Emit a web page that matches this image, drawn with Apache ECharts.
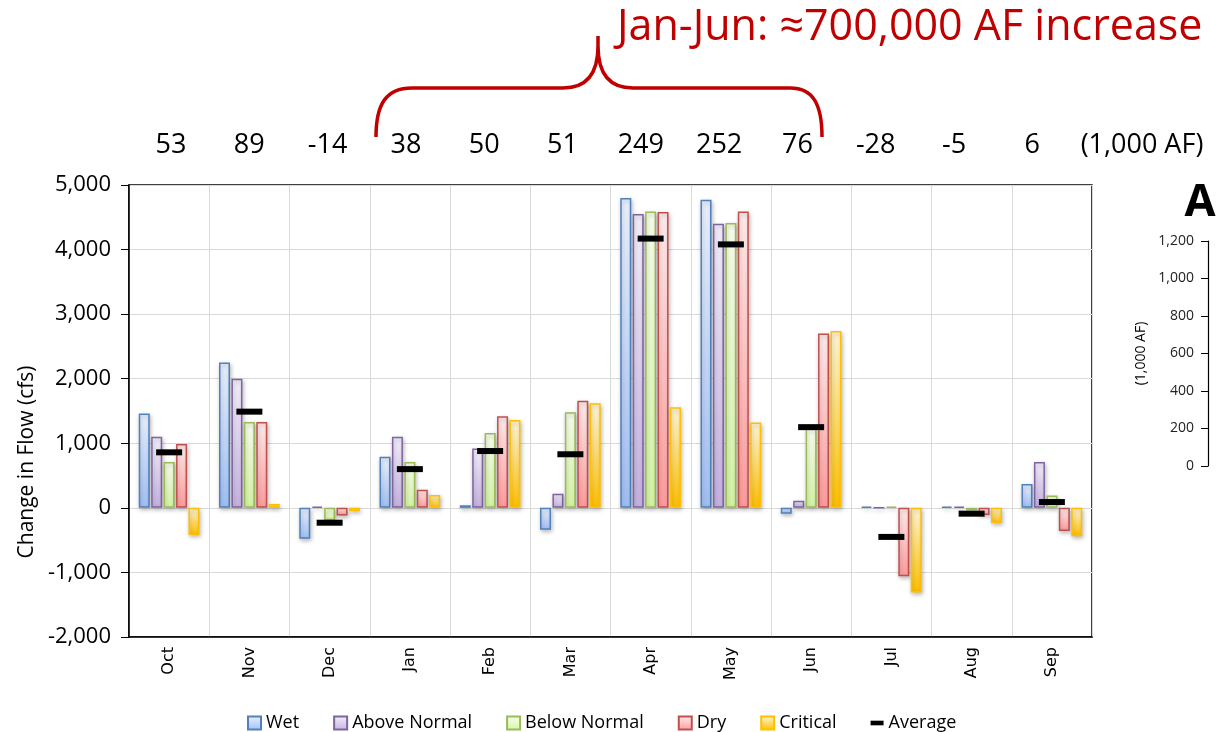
<!DOCTYPE html>
<html>
<head>
<meta charset="utf-8">
<script src="https://cdn.jsdelivr.net/npm/echarts@6/dist/echarts.min.js"></script>
<style>
  html, body { margin: 0; padding: 0; background: #fff; }
  #chart { width: 1217px; height: 732px; }
</style>
</head>
<body>
<div id="chart"></div>
<script>
// monthly change in flow (cfs) by water year type
const months = ['Oct', 'Nov', 'Dec', 'Jan', 'Feb', 'Mar', 'Apr', 'May', 'Jun', 'Jul', 'Aug', 'Sep'];
const wet = [1460, 2250, -480, 790, 40, -340, 4800, 4770, -90, 20, 20, 370];
const aboveNormal = [1100, 2000, 20, 1100, 920, 220, 4550, 4400, 110, 0, 20, 710];
const belowNormal = [710, 1330, -190, 710, 1160, 1480, 4590, 4410, 1230, 20, -40, 190];
const dry = [990, 1330, -120, 280, 1420, 1660, 4580, 4590, 2700, -1060, -110, -360];
const critical = [-420, 60, -50, 200, 1360, 1620, 1560, 1320, 2740, -1310, -236, -440];
const average = [860, 1490, -230, 600, 880, 830, 4170, 4080, 1250, -450, -90, 90];
// volume change per month (1,000 AF), shown above the plot
const volumeLabels = ['53', '89', '-14', '38', '50', '51', '249', '252', '76', '-28', '-5', '6'];
const yTicks = [-2000, 5000, 1000];
const panelTicks = [0, 1200, 200];

const FONT = '"Open Sans", "Noto Sans", sans-serif';

// curly brace over Jan-Jun
echarts.graphic.registerShape('brace', echarts.graphic.extendPath(
    'M376,137 C376,104 386,88 412,88 L563,88 C588,88 598,72 598,46 L598,36 ' +
    'M598,46 C598,72 608,88 633,88 L790,88 C813,88 822,104 822,137', {}
));

function barSeries(name, data, top, bottom, border) {
    return {
        name: name,
        type: 'bar',
        data: data,
        barWidth: 11,
        barGap: '13%',
        itemStyle: {
            color: new echarts.graphic.LinearGradient(0, 0, 0, 1, [
                { offset: 0, color: top },
                { offset: 1, color: bottom }
            ]),
            borderColor: border,
            borderWidth: 1.5,
            shadowBlur: 4,
            shadowOffsetX: 1,
            shadowOffsetY: 2,
            shadowColor: 'rgba(0,0,0,0.25)'
        }
    };
}

const chart = echarts.init(document.getElementById('chart'));

chart.setOption({
    animation: false,
    backgroundColor: '#fff',
    textStyle: { fontFamily: FONT },
    grid: [
        { left: 129, right: 125, top: 185, bottom: 95, show: true, borderColor: '#000', borderWidth: 1.5 },
        { left: 131.85, width: 939.6, top: 185, height: 452 },
        { left: 1208, top: 241, height: 225, width: 300 }
    ],
    legend: {
        left: 242,
        top: 709,
        itemWidth: 13,
        itemHeight: 13,
        itemGap: 34,
        textStyle: { fontFamily: FONT, fontSize: 18, color: '#000' },
        data: [
            { name: 'Wet', icon: 'rect' },
            { name: 'Above Normal', icon: 'rect' },
            { name: 'Below Normal', icon: 'rect' },
            { name: 'Dry', icon: 'rect' },
            { name: 'Critical', icon: 'rect' },
            { name: 'Average', icon: 'path://M0,0H14V5H0Z', itemStyle: { opacity: 1 } }
        ]
    },
    xAxis: [
        {
            type: 'category',
            gridIndex: 0,
            data: months,
            axisLine: { onZero: false, lineStyle: { color: '#000', width: 1.5 } },
            axisTick: { show: false },
            splitLine: { show: true, interval: 0, lineStyle: { color: '#d9d9d9' } },
            axisLabel: {
                rotate: 90,
                margin: 10,
                interval: 0,
                fontFamily: '"DejaVu Sans", Verdana, sans-serif',
                fontSize: 16,
                color: '#000'
            }
        },
        {
            type: 'category',
            gridIndex: 1,
            position: 'top',
            data: volumeLabels,
            axisLine: { show: false },
            axisTick: { show: false },
            splitLine: { show: false },
            axisLabel: { interval: 0, margin: 26, fontFamily: FONT, fontSize: 27, color: '#000' }
        },
        { type: 'value', gridIndex: 2, show: false }
    ],
    yAxis: [
        {
            type: 'value',
            gridIndex: 0,
            min: yTicks[0],
            max: yTicks[1],
            interval: yTicks[2],
            axisLine: { show: true, lineStyle: { color: '#000', width: 1.5 } },
            axisTick: { show: true, length: 8, lineStyle: { color: '#000' } },
            splitLine: { lineStyle: { color: '#d9d9d9' } },
            axisLabel: {
                margin: 18,
                fontFamily: FONT,
                fontSize: 22,
                color: '#000',
                formatter: v => v.toLocaleString('en-US')
            }
        },
        { type: 'value', gridIndex: 1, show: false, min: 0, max: 1 },
        {
            type: 'value',
            gridIndex: 2,
            min: panelTicks[0],
            max: panelTicks[1],
            interval: panelTicks[2],
            name: '(1,000 AF)',
            nameLocation: 'middle',
            nameGap: 60,
            nameTextStyle: { fontFamily: FONT, fontSize: 14, color: '#000' },
            axisLine: { show: true, lineStyle: { color: '#000', width: 1.2 } },
            axisTick: { show: true, length: 7, lineStyle: { color: '#000' } },
            splitLine: { show: false },
            axisLabel: {
                margin: 14,
                fontFamily: FONT,
                fontSize: 14,
                color: '#222',
                formatter: v => v.toLocaleString('en-US')
            }
        }
    ],
    series: [
        barSeries('Wet', wet, '#eaf1fd', '#a2c0f5', '#4f81bd'),
        barSeries('Above Normal', aboveNormal, '#f4f0fa', '#c5b2e2', '#8064a2'),
        barSeries('Below Normal', belowNormal, '#f9fdef', '#d5f5a5', '#9bbb59'),
        barSeries('Dry', dry, '#ffeded', '#ff9c9c', '#c0504d'),
        barSeries('Critical', critical, '#fff6d8', '#ffc000', '#ffc000'),
        {
            name: 'Average',
            type: 'scatter',
            data: average,
            symbol: 'rect',
            symbolSize: [26, 6],
            z: 5,
            itemStyle: { color: '#000', opacity: 1 }
        }
    ],
    graphic: [
        {
            type: 'text',
            x: 617,
            y: 6,
            style: {
                text: 'Jan-Jun: \u2248700,000 AF increase',
                font: '43px ' + FONT,
                fill: '#c00000'
            }
        },
        {
            type: 'brace',
            style: { stroke: '#c00000', lineWidth: 3.5, fill: null }
        },
        {
            type: 'text',
            x: 1142,
            y: 145,
            style: {
                text: '(1,000 AF)',
                font: '27px ' + FONT,
                fill: '#000',
                align: 'center',
                verticalAlign: 'middle'
            }
        },
        {
            type: 'text',
            x: 27,
            y: 462,
            rotation: Math.PI / 2,
            style: {
                text: 'Change in Flow (cfs)',
                font: '21px ' + FONT,
                fill: '#000',
                align: 'center',
                verticalAlign: 'middle'
            }
        },
        {
            type: 'text',
            x: 1200,
            y: 203,
            style: {
                text: 'A',
                font: 'bold 45px ' + FONT,
                fill: '#000',
                align: 'center',
                verticalAlign: 'middle'
            }
        }
    ]
});
</script>
</body>
</html>
